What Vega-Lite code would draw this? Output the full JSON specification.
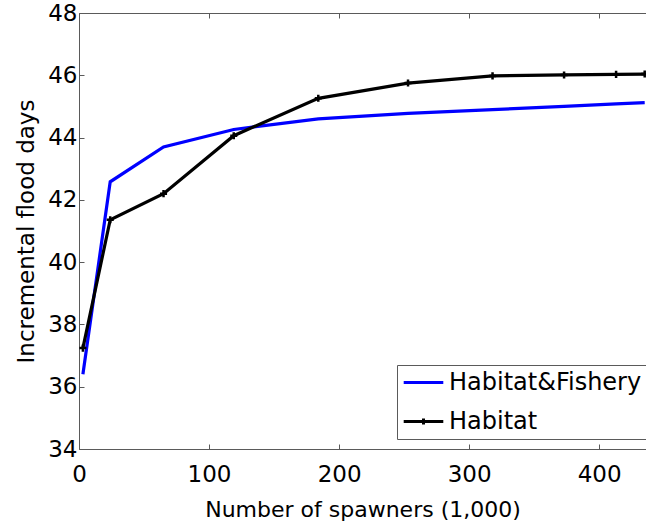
{
  "$schema": "https://vega.github.io/schema/vega-lite/v6.json",
  "autosize": "none",
  "width": 567,
  "height": 436,
  "padding": {"left": 79, "top": 13, "right": 0, "bottom": 78},
  "background": "white",
  "config": {
    "view": {"stroke": null},
    "font": "DejaVu Sans",
    "axis": {
      "labelFont": "DejaVu Sans",
      "labelFontSize": 23,
      "labelColor": "black",
      "titleFont": "DejaVu Sans",
      "titleFontSize": 22,
      "titleFontWeight": "normal",
      "titleColor": "black",
      "domainColor": "#5a5a5a",
      "tickColor": "#5a5a5a",
      "grid": false
    }
  },
  "data": {
    "values": [
      {"spawners": 3, "days": 36.4, "series": "Habitat&Fishery"},
      {"spawners": 24, "days": 42.58, "series": "Habitat&Fishery"},
      {"spawners": 65, "days": 43.7, "series": "Habitat&Fishery"},
      {"spawners": 119, "days": 44.26, "series": "Habitat&Fishery"},
      {"spawners": 184, "days": 44.6, "series": "Habitat&Fishery"},
      {"spawners": 253, "days": 44.78, "series": "Habitat&Fishery"},
      {"spawners": 318, "days": 44.9, "series": "Habitat&Fishery"},
      {"spawners": 373, "days": 45.0, "series": "Habitat&Fishery"},
      {"spawners": 413, "days": 45.08, "series": "Habitat&Fishery"},
      {"spawners": 435, "days": 45.12, "series": "Habitat&Fishery"},
      {"spawners": 3, "days": 37.24, "series": "Habitat"},
      {"spawners": 24, "days": 41.36, "series": "Habitat"},
      {"spawners": 65, "days": 42.2, "series": "Habitat"},
      {"spawners": 119, "days": 44.06, "series": "Habitat"},
      {"spawners": 184, "days": 45.26, "series": "Habitat"},
      {"spawners": 253, "days": 45.75, "series": "Habitat"},
      {"spawners": 318, "days": 45.98, "series": "Habitat"},
      {"spawners": 373, "days": 46.01, "series": "Habitat"},
      {"spawners": 413, "days": 46.03, "series": "Habitat"},
      {"spawners": 435, "days": 46.04, "series": "Habitat"}
    ]
  },
  "layer": [
    {
      "mark": {"type": "line", "strokeWidth": 3.2, "clip": false},
      "encoding": {
        "x": {
          "field": "spawners", "type": "quantitative",
          "scale": {"domain": [0, 436], "nice": false, "zero": false},
          "axis": {
            "orient": "bottom",
            "title": "Number of spawners (1,000)",
            "values": [0, 100, 200, 300, 400],
            "tickSize": -5,
            "labelPadding": 19,
            "titlePadding": 13,
            "labelFlush": false
          }
        },
        "y": {
          "field": "days", "type": "quantitative",
          "scale": {"domain": [34, 48], "nice": false, "zero": false},
          "axis": {
            "orient": "left",
            "title": "Incremental flood days",
            "titleFontSize": 23,
            "values": [34, 36, 38, 40, 42, 44, 46, 48],
            "tickSize": -5,
            "labelPadding": 7,
            "titlePadding": 9,
            "labelFlush": false
          }
        },
        "color": {
          "field": "series", "type": "nominal",
          "scale": {"domain": ["Habitat&Fishery", "Habitat"], "range": ["#0000ff", "#000000"]},
          "legend": {
            "title": null,
            "orient": "none",
            "legendX": 318,
            "legendY": 352,
            "direction": "vertical",
            "strokeColor": "#5a5a5a",
            "fillColor": "white",
            "padding": 5,
            "symbolType": "stroke",
            "symbolSize": 484,
            "symbolOffset": 9,
            "symbolStrokeWidth": 3,
            "labelFont": "DejaVu Sans",
            "labelFontSize": 24,
            "labelColor": "black",
            "labelOffset": 13,
            "rowPadding": 14,
            "labelLimit": 400,
            "encode": {
              "symbols": {
                "update": {
                  "shape": {"signal": "datum.value === 'Habitat' ? 'M-1.8,0H1.8M0,-0.27V0.27' : 'M-1.8,0H1.8'"}
                }
              }
            }
          }
        }
      }
    },
    {
      "transform": [{"filter": "datum.series === 'Habitat'"}],
      "mark": {"type": "point", "shape": "M0,-1V1M-1,0H1", "size": 50, "strokeWidth": 2.5, "color": "black", "filled": false, "opacity": 1, "clip": false},
      "encoding": {
        "x": {
          "field": "spawners", "type": "quantitative",
          "scale": {"domain": [0, 436], "nice": false, "zero": false},
          "axis": {"orient": "top", "title": null, "labels": false, "values": [0, 100, 200, 300, 400], "tickSize": -5}
        },
        "y": {
          "field": "days", "type": "quantitative",
          "scale": {"domain": [34, 48], "nice": false, "zero": false},
          "axis": null
        }
      }
    }
  ],
  "resolve": {"axis": {"x": "independent", "y": "independent"}}
}
